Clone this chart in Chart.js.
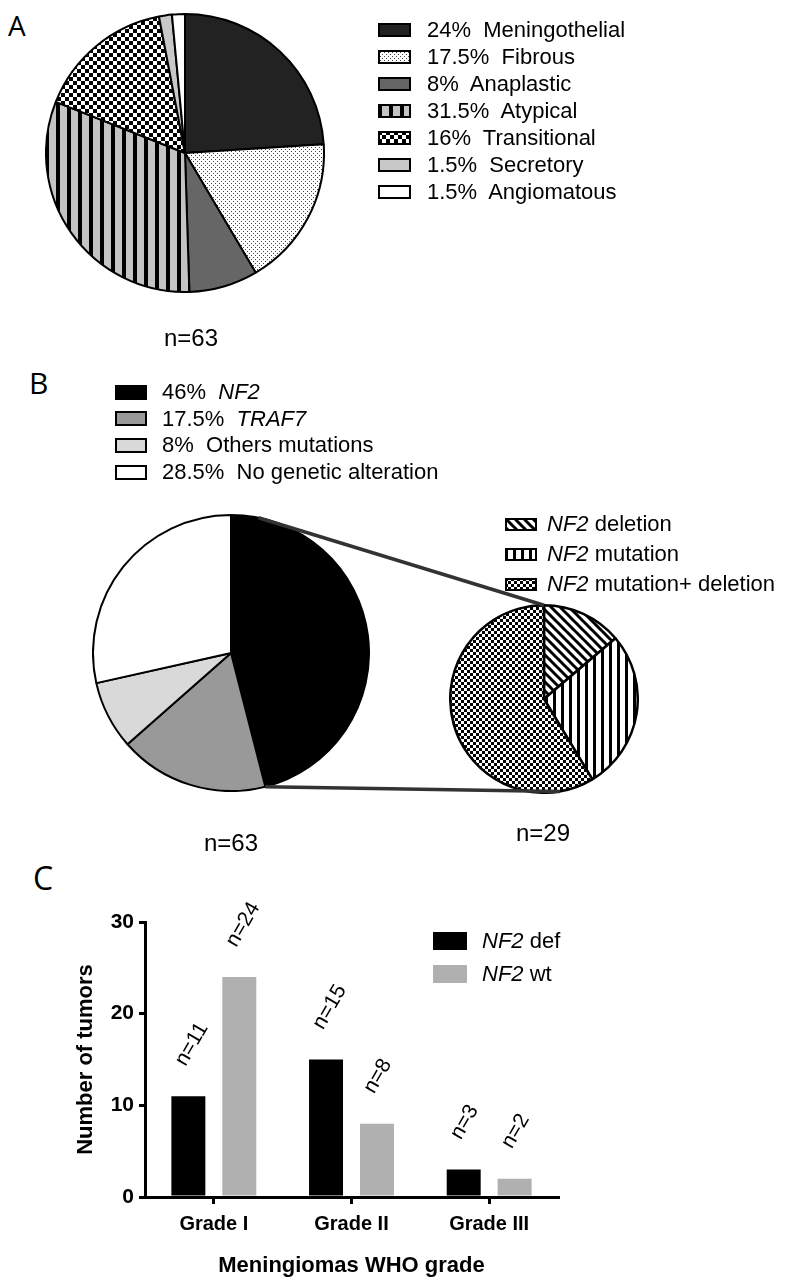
<!DOCTYPE html>
<html>
<head>
<meta charset="utf-8">
<script src="https://cdn.jsdelivr.net/npm/chart.js@4.4.1/dist/chart.umd.min.js"></script>
<style>
  body { margin: 0; background: #fff; }
  #page { position: relative; width: 792px; height: 1288px; overflow: hidden; background: #fff;
          font-family: "Liberation Sans", Arial, sans-serif; color: #000; }
  #page canvas { position: absolute; }
  .txt { position: absolute; white-space: pre; font-size: 22px; line-height: 22px; }
  .letter { position: absolute; font-family: "Open Sans", sans-serif; line-height: 1; }
</style>
</head>
<body>
<div id="page">
  <div class="letter" style="left:8px;top:11px;font-size:28px;">A</div>
  <div class="letter" style="left:29px;top:368px;font-size:30px;">B</div>
  <div class="letter" style="left:33px;top:862px;font-size:32px;">C</div>

  <canvas id="pieA" width="280" height="280" style="left:45px;top:13px;"></canvas>
  <canvas id="pieB" width="278" height="278" style="left:92px;top:514px;"></canvas>
  <canvas id="pieNF2" width="190" height="190" style="left:449px;top:604px;"></canvas>
  <canvas id="barC" width="600" height="399" style="left:0px;top:880px;"></canvas>
  <canvas id="links" width="792" height="1288" style="left:0;top:0;pointer-events:none;"></canvas>

  <div class="txt" style="left:141px;top:326px;width:100px;text-align:center;font-size:24px;line-height:24px;">n=63</div>
  <div class="txt" style="left:181px;top:831px;width:100px;text-align:center;font-size:24px;line-height:24px;">n=63</div>
  <div class="txt" style="left:493px;top:821px;width:100px;text-align:center;font-size:24px;line-height:24px;">n=29</div>
</div>

<script>
// Panel A: histological subtypes (%)
const typeLabels = ["Meningothelial", "Fibrous", "Anaplastic", "Atypical", "Transitional", "Secretory", "Angiomatous"];
const typePct = [24, 17.5, 8, 31.5, 16, 1.5, 1.5];

// Panel B: genetic alterations (%)
const geneLabels = ["NF2", "TRAF7", "Others mutations", "No genetic alteration"];
const genePct = [46, 17.5, 8, 28.5];

// Panel B: NF2 altered tumors (counts, n=29)
const nf2Labels = ["NF2 deletion", "NF2 mutation", "NF2 mutation+ deletion"];
const nf2Counts = [4, 8, 17];

// Panel C: tumors per WHO grade
const grades = ["Grade I", "Grade II", "Grade III"];
const seriesNames = ["NF2 def", "NF2 wt"];
const nf2Def = [11, 15, 3];
const nf2Wt = [24, 8, 2];

const FONT = "'Liberation Sans', Arial, sans-serif";
const page = document.getElementById("page");

// Fill patterns for the black & white slices
function makePattern(kind) {
  const c = document.createElement("canvas");
  const g = c.getContext("2d");
  if (kind === "dots") {
    c.width = 4; c.height = 4;
    g.fillStyle = "#fff"; g.fillRect(0, 0, 4, 4);
    g.fillStyle = "#444"; g.fillRect(0, 0, 1, 1); g.fillRect(2, 2, 1, 1);
  } else if (kind === "grayStripes") {
    c.width = 11; c.height = 4;
    g.fillStyle = "#c4c4c4"; g.fillRect(0, 0, 11, 4);
    g.fillStyle = "#000"; g.fillRect(0, 0, 4, 4);
  } else if (kind === "checker") {
    c.width = 8; c.height = 8;
    g.fillStyle = "#fff"; g.fillRect(0, 0, 8, 8);
    g.fillStyle = "#000"; g.fillRect(0, 0, 4, 4); g.fillRect(4, 4, 4, 4);
  } else if (kind === "smallChecker") {
    c.width = 6; c.height = 6;
    g.fillStyle = "#fff"; g.fillRect(0, 0, 6, 6);
    g.fillStyle = "#000"; g.fillRect(0, 0, 3, 3); g.fillRect(3, 3, 3, 3);
  } else if (kind === "stripes") {
    c.width = 8; c.height = 4;
    g.fillStyle = "#fff"; g.fillRect(0, 0, 8, 4);
    g.fillStyle = "#000"; g.fillRect(0, 0, 3, 4);
  } else if (kind === "diagonal") {
    c.width = 9; c.height = 9;
    g.fillStyle = "#fff"; g.fillRect(0, 0, 9, 9);
    g.strokeStyle = "#000"; g.lineWidth = 3;
    [-9, 0, 9].forEach((k) => {
      g.beginPath(); g.moveTo(k - 1, -1); g.lineTo(k + 10, 10); g.stroke();
    });
  }
  return g.createPattern(c, "repeat");
}

const typeFills = ["#222222", makePattern("dots"), "#666666", makePattern("grayStripes"),
                   makePattern("checker"), "#c8c8c8", "#ffffff"];
const geneFills = ["#000000", "#999999", "#d9d9d9", "#ffffff"];
const nf2Fills = [makePattern("diagonal"), makePattern("stripes"), makePattern("smallChecker")];

function pieChart(id, labels, values, fills, border) {
  return new Chart(document.getElementById(id), {
    type: "pie",
    data: {
      labels: labels,
      datasets: [{ data: values, backgroundColor: fills, borderColor: "#000", borderWidth: border }],
    },
    options: {
      responsive: false,
      animation: false,
      devicePixelRatio: 1,
      layout: { padding: 0 },
      plugins: { legend: { display: false }, tooltip: { enabled: false } },
    },
  });
}

const chartA = pieChart("pieA", typeLabels, typePct, typeFills, 2);
const chartB = pieChart("pieB", geneLabels, genePct, geneFills, 2);
const chartNF2 = pieChart("pieNF2", nf2Labels, nf2Counts, nf2Fills, 2.5);

// Legends (HTML so the gene names can be italic)
function geneItalic(s) {
  return s.replace(/(NF2|TRAF7)/, "<i>$1</i>");
}

function legendRow(x, y, w, h, fill, html, textX, border) {
  const box = document.createElement("canvas");
  box.width = w; box.height = h;
  box.style.left = x + "px";
  box.style.top = Math.round(y - h / 2) + "px";
  const g = box.getContext("2d");
  g.fillStyle = fill;
  g.fillRect(0, 0, w, h);
  if (border) {
    g.strokeStyle = "#000"; g.lineWidth = 2;
    g.strokeRect(1, 1, w - 2, h - 2);
  }
  page.appendChild(box);
  const t = document.createElement("div");
  t.className = "txt";
  t.style.left = textX + "px";
  t.style.top = Math.round(y - 11) + "px";
  t.innerHTML = html;
  page.appendChild(t);
}

typeLabels.forEach((lab, i) => {
  legendRow(378, 30 + i * 27, 33, 14, typeFills[i], typePct[i] + "%  " + lab, 427, true);
});
geneLabels.forEach((lab, i) => {
  legendRow(115, 392 + i * 26.7, 32, 15, geneFills[i], genePct[i] + "%  " + geneItalic(lab), 162, true);
});
nf2Labels.forEach((lab, i) => {
  legendRow(505, 524 + i * 30, 32, 13, nf2Fills[i], geneItalic(lab), 547, true);
});

// Zoom lines between the NF2 slice and the NF2 breakdown pie
(function drawLinks() {
  const g = document.getElementById("links").getContext("2d");
  const big = chartB.getDatasetMeta(0).data[0];
  const small = chartNF2.getDatasetMeta(0).data[0];
  const bx = big.x + chartB.canvas.offsetLeft, by = big.y + chartB.canvas.offsetTop;
  const sx = small.x + chartNF2.canvas.offsetLeft, sy = small.y + chartNF2.canvas.offsetTop;
  const br = big.outerRadius, sr = small.outerRadius;
  const pt = (x, y, r, a) => [x + r * Math.cos(a), y + r * Math.sin(a)];
  const topA = pt(bx, by, br, big.startAngle + 0.2);
  const topB = pt(sx, sy, sr, -Math.PI / 2);
  const botA = pt(bx, by, br, big.endAngle);
  const botB = pt(sx, sy, sr, Math.PI / 2 - 0.17);
  g.strokeStyle = "#333";
  g.lineWidth = 3.5;
  g.beginPath(); g.moveTo(topA[0], topA[1]); g.lineTo(topB[0], topB[1]); g.stroke();
  g.beginPath(); g.moveTo(botA[0], botA[1]); g.lineTo(botB[0], botB[1]); g.stroke();
})();

// Panel C: grouped bars with rotated n= labels
const nLabels = {
  id: "nLabels",
  afterDatasetsDraw(chart) {
    const ctx = chart.ctx;
    ctx.save();
    ctx.fillStyle = "#000";
    ctx.font = "21px " + FONT;
    ctx.textAlign = "left";
    ctx.textBaseline = "middle";
    chart.data.datasets.forEach((ds, di) => {
      chart.getDatasetMeta(di).data.forEach((bar, i) => {
        ctx.save();
        ctx.translate(bar.x - 8, bar.y - 32);
        ctx.rotate(-60 * Math.PI / 180);
        ctx.fillText("n=" + ds.data[i], 0, 0);
        ctx.restore();
      });
    });
    ctx.restore();
  },
};

const barColors = ["#000000", "#b0b0b0"];

new Chart(document.getElementById("barC"), {
  type: "bar",
  data: {
    labels: grades,
    datasets: [
      { label: seriesNames[0], data: nf2Def, backgroundColor: barColors[0] },
      { label: seriesNames[1], data: nf2Wt, backgroundColor: barColors[1] },
    ],
  },
  options: {
    responsive: false,
    animation: false,
    devicePixelRatio: 1,
    categoryPercentage: 0.74,
    barPercentage: 0.667,
    layout: { padding: { left: 73, top: 42, right: 42, bottom: 0 } },
    plugins: { legend: { display: false }, tooltip: { enabled: false } },
    scales: {
      x: {
        grid: { display: true, drawOnChartArea: false, drawTicks: true, tickLength: 7, offset: false, color: "#000", lineWidth: 3 },
        border: { display: true, color: "#000", width: 3 },
        ticks: { color: "#000", padding: 8, font: { family: FONT, size: 20, weight: "bold" } },
        title: { display: true, text: "Meningiomas WHO grade", color: "#000", padding: 0,
                 font: { family: FONT, size: 22, weight: "bold" } },
        afterFit: (s) => { s.height = 82; },
      },
      y: {
        min: 0,
        max: 30,
        ticks: { stepSize: 10, color: "#000", padding: 5, font: { family: FONT, size: 21, weight: "bold" } },
        grid: { display: true, drawOnChartArea: false, drawTicks: true, tickLength: 6, color: "#000", lineWidth: 3 },
        border: { display: true, color: "#000", width: 3 },
        title: { display: true, text: "Number of tumors", color: "#000", padding: 0,
                 font: { family: FONT, size: 22, weight: "bold" } },
        afterFit: (s) => { s.width = 72; },
      },
    },
  },
  plugins: [nLabels],
});

seriesNames.forEach((name, i) => {
  legendRow(433, 941 + i * 33, 34, 18, barColors[i], geneItalic(name), 482, false);
});
</script>
</body>
</html>
